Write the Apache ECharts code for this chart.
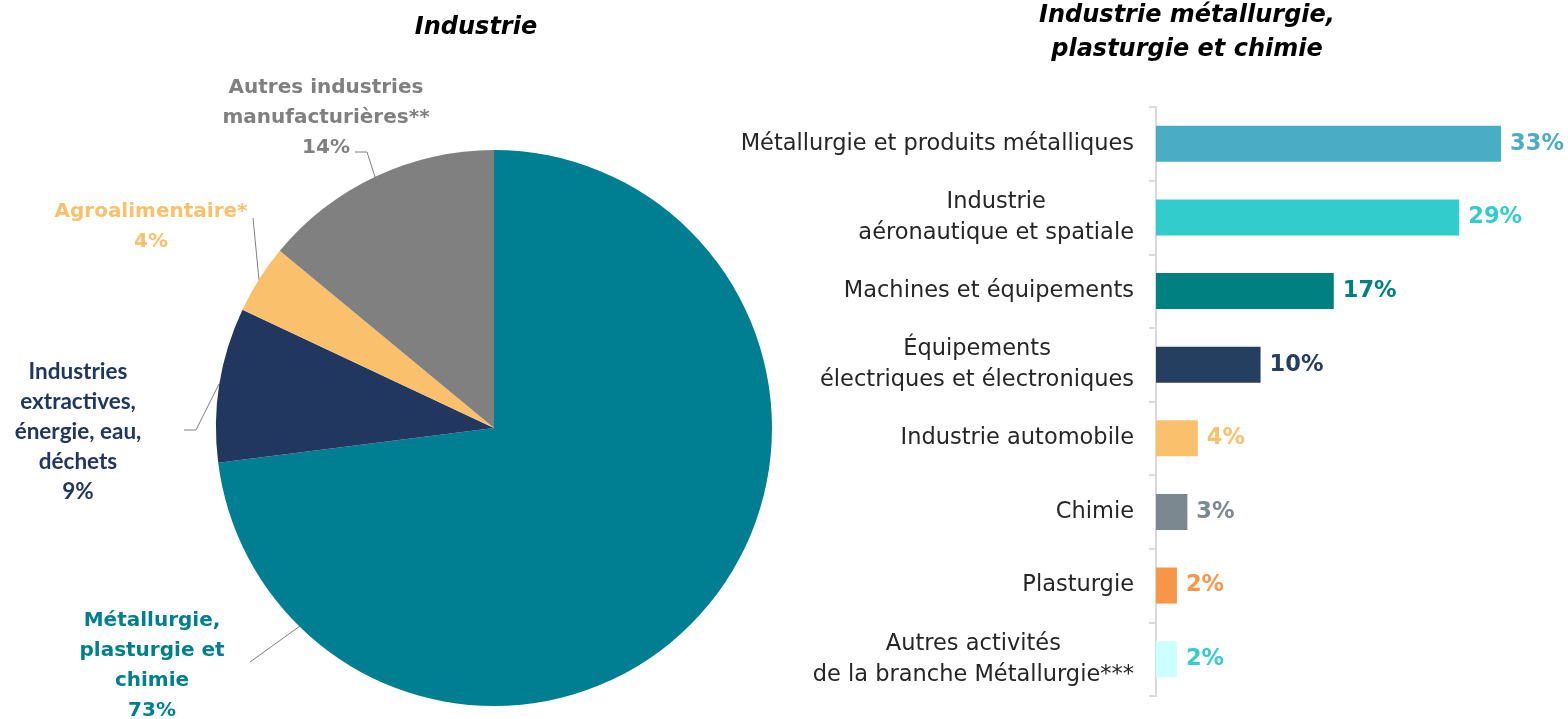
<!DOCTYPE html>
<html>
<head>
<meta charset="utf-8">
<script src="https://cdn.jsdelivr.net/npm/echarts@6/dist/echarts.min.js"></script>
<style>
  html, body { margin: 0; padding: 0; background: #ffffff; }
  #chart { width: 1568px; height: 719px; }
</style>
</head>
<body>
<div id="chart"></div>
<script>
// ---- Data: répartition de l'industrie ----
const pieNames = [
  'Métallurgie,\nplasturgie et\nchimie',
  'Industries\nextractives,\nénergie, eau,\ndéchets',
  'Agroalimentaire*',
  'Autres industries\nmanufacturières**'
];
const pieValues = [73, 9, 4, 14];

// ---- Data: détail métallurgie, plasturgie et chimie ----
const barCategories = [
  'Métallurgie et produits métalliques',
  'Industrie\naéronautique et spatiale',
  'Machines et équipements',
  'Équipements\nélectriques et électroniques',
  'Industrie automobile',
  'Chimie',
  'Plasturgie',
  'Autres activités\nde la branche Métallurgie***'
];
const barValues = [33, 29, 17, 10, 4, 3, 2, 2];

// ---- Styling ----
const pieColors = ['#007F93', '#22375F', '#FAC06B', '#808080'];
const pieLabelColors = ['#00808F', '#22375F', '#FAC06B', '#808080'];
const barColors = ['#4BACC6', '#33CCCC', '#008080', '#243F60', '#FAC06B', '#7B8890', '#F79646', '#CCFFFF'];
const barLabelColors = ['#4BACC6', '#33CCCC', '#008080', '#243F60', '#FAC06B', '#7B8890', '#F79646', '#33CCCC'];

const FONT = '"DejaVu Sans", Lato, sans-serif';
const FONT_ALT = 'Lato, "Noto Sans", sans-serif';

// Label placement for the pie (text block centres and leader lines)
const pieLabelPos = [[152, 666], [78, 432], [151, 227], [326, 118]];
const pieLabelFonts = [FONT, FONT_ALT, FONT, FONT];
const pieLabelSizes = [20, 22.5, 20, 20];
const pieLeaders = [
  [[300, 626], [275, 644], [250, 662]],
  [[219, 384], [196, 430], [184, 430]],
  [[259, 280], [256, 249], [253, 218]],
  [[375, 177], [367, 152], [355, 152]]
];

const chart = echarts.init(document.getElementById('chart'), null, { renderer: 'canvas' });

const pieData = pieNames.map((n, i) => ({
  name: n,
  value: pieValues[i],
  itemStyle: { color: pieColors[i] },
  label: { color: pieLabelColors[i], fontFamily: pieLabelFonts[i], fontSize: pieLabelSizes[i] }
}));

const barData = barValues.map((v, i) => ({
  value: v,
  itemStyle: { color: barColors[i] },
  label: { color: barLabelColors[i] }
}));

const option = {
  backgroundColor: '#ffffff',
  animation: false,
  graphic: [
    {
      type: 'text', x: 476, y: 28,
      style: {
        text: 'Industrie', align: 'center', verticalAlign: 'middle',
        font: 'italic bold 24px ' + FONT, fill: '#000000'
      }
    },
    {
      type: 'text', x: 1187, y: 33,
      style: {
        text: 'Industrie métallurgie,\nplasturgie et chimie', align: 'center', verticalAlign: 'middle',
        font: 'italic bold 24px ' + FONT, fill: '#000000', lineHeight: 34
      }
    }
  ],
  grid: { left: 1156, right: 46, top: 107, bottom: 23, containLabel: false },
  xAxis: {
    type: 'value', min: 0, max: 35, show: false
  },
  yAxis: {
    type: 'category',
    data: barCategories,
    inverse: true,
    axisLine: { show: true, lineStyle: { color: '#D9D9D9', width: 2 } },
    axisTick: { show: true, length: 7, lineStyle: { color: '#D9D9D9', width: 2 } },
    axisLabel: {
      margin: 22,
      formatter: (val) => val.split('\n').map(l => '{c|' + l + '}').join('\n'),
      rich: {
        c: { align: 'center', fontFamily: FONT, fontSize: 22.5, color: '#262626', lineHeight: 31 }
      }
    },
    splitLine: { show: false }
  },
  series: [
    {
      type: 'pie',
      center: [494, 428],
      radius: [0, 278],
      startAngle: 90,
      clockwise: true,
      data: pieData,
      itemStyle: { borderWidth: 0 },
      label: {
        show: true,
        position: 'outside',
        formatter: (p) => p.name + '\n' + p.value + '%',
        fontWeight: 'bold',
        lineHeight: 30,
        align: 'center'
      },
      labelLine: { show: true, lineStyle: { color: '#7F7F7F', width: 1 }, smooth: false },
      labelLayout: (params) => {
        const i = params.dataIndex;
        return {
          x: pieLabelPos[i][0],
          y: pieLabelPos[i][1],
          align: 'center',
          verticalAlign: 'middle',
          labelLinePoints: pieLeaders[i]
        };
      },
      emphasis: { disabled: true }
    },
    {
      type: 'bar',
      data: barData,
      barWidth: '49%',
      label: {
        show: true,
        position: 'right',
        distance: 9,
        formatter: '{c}%',
        fontFamily: FONT,
        fontWeight: 'bold',
        fontSize: 22.5
      },
      emphasis: { disabled: true }
    }
  ]
};

chart.setOption(option);
</script>
</body>
</html>
